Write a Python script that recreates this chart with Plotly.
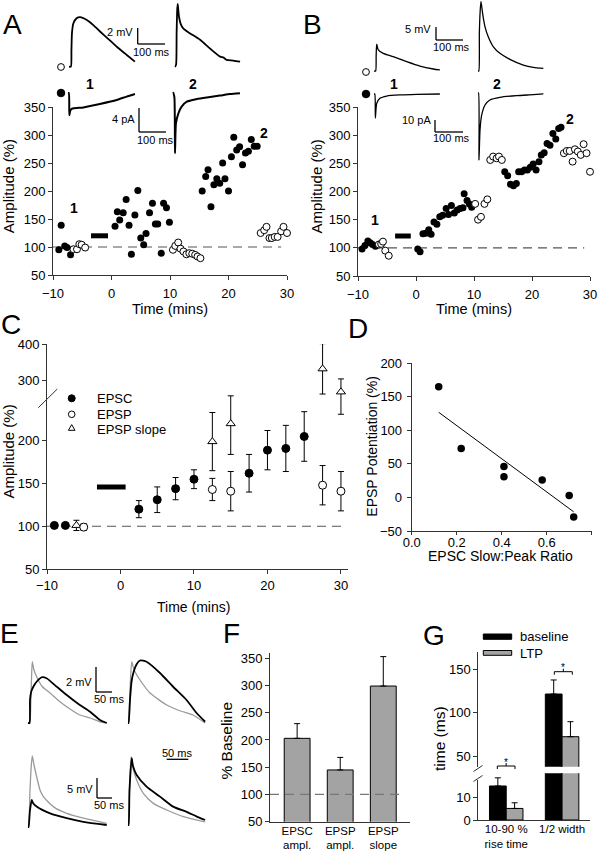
import numpy as np
import plotly.graph_objects as go

W, H = 599, 853
FONT = "Liberation Sans, Arial, sans-serif"

# ---------------- data ----------------
# Panel A (EPSC filled, EPSP open), time in min, amplitude in %
a_fill_t = [-9.0, -8.6, -8.0, -7.6, -7.0,
            0.6, 1.0, 1.4, 2.0, 2.5, 3.0, 3.4, 4.0, 4.5, 5.0, 5.5, 5.9, 6.5, 7.0, 7.5, 7.9, 8.5, 8.9, 9.4, 9.9,
            15.5, 16.1, 16.5, 17.0, 17.5, 18.0, 18.5, 19.0, 19.4, 20.0, 20.5, 20.9, 21.4, 21.9, 22.4, 22.9, 23.4, 23.9, 24.4, 24.9]
a_fill_v = [95, 139, 102, 99, 86,
            137, 163, 148, 161, 185, 139, 87, 157, 201, 116, 104, 124, 161, 178, 141, 141, 89, 178, 170, 144,
            200, 226, 238, 172, 211, 222, 214, 250, 222, 200, 261, 296, 273, 279, 247, 268, 271, 292, 280, 280]
a_open_t = [-6.5, -5.9, -5.5, -5.1, -4.5,
            10.5, 10.9, 11.4, 11.8, 12.3, 12.8, 13.3, 13.8, 14.3, 14.7, 15.2,
            25.5, 26.1, 26.5, 27.0, 27.4, 27.9, 28.4, 29.0, 29.4, 30.0]
a_open_v = [96, 96, 105, 104, 99,
            95, 102, 108, 97, 92, 87, 89, 88, 86, 83, 80,
            125, 130, 136, 116, 116, 118, 118, 128, 136, 125]

# Panel B
b_fill_t = [-9.3, -8.8, -8.3, -7.9, -7.5, -7.0,
            0.3, 0.7, 1.2, 1.7, 2.2, 2.6, 3.1, 3.6, 4.1, 4.6, 5.2, 5.6, 6.1, 6.6, 7.1, 7.6, 8.1, 8.3, 8.8, 9.2, 9.6,
            15.3, 15.8, 16.3, 16.8, 17.3, 17.7, 18.2, 18.7, 19.2, 19.7, 20.2, 20.7, 21.2, 21.6, 22.1, 22.6, 23.1, 23.6, 24.1, 24.6, 25.0]
b_fill_v = [98, 104, 112, 109, 106, 103,
            98, 93, 125, 126, 132, 124, 146, 142, 155, 158, 170, 159, 175, 162, 167, 170, 171, 196, 184, 178, 172,
            235, 228, 213, 210, 214, 235, 235, 238, 238, 243, 249, 238, 253, 265, 269, 285, 282, 303, 293, 312, 314]
b_open_t = [-6.4, -6.0, -5.7, -5.3, -4.7,
            10.2, 10.7, 11.2, 11.8, 12.3, 12.8, 13.3, 13.9, 14.3, 14.8,
            25.5, 26.0, 26.5, 27.0, 27.4, 27.9, 28.4, 28.9, 29.4, 30.0]
b_open_v = [106, 107, 111, 95, 86,
            178, 150, 155, 178, 186, 256, 262, 259, 262, 256,
            268, 272, 272, 253, 275, 271, 265, 284, 268, 235]

# Tetanus bars: [t_start, t_end, level]
stim_a = [-3.5, -0.6, 120]
stim_b = [-3.6, -0.9, 121]
stim_c = [-3.2, 0.7, 146]

# Panel C (mean +/- SEM)
c_epsc_t = [-9, -7.5, 2.5, 5, 7.5, 10, 17.5, 20, 22.5, 25]
c_epsc_v = [101, 101, 120, 131, 144, 155, 162, 189, 191, 205]
c_epsc_e = [2, 2, 10, 15, 13, 11, 22, 23, 27, 29]
c_epsp_t = [-5, 12.5, 15, 27.5, 30]
c_epsp_v = [99, 143, 141, 148, 141]
c_epsp_e = [4, 13, 23, 23, 23]
c_slope_t = [-6, 12.5, 15, 27.5, 30]
c_slope_v = [101, 199, 220, 331, 267]
c_slope_e = [6, 34, 36, 70, 36]

# Panel D
d_ratio = [0.12, 0.22, 0.41, 0.41, 0.58, 0.70, 0.72]
d_pot = [165, 73, 46, 31, 26, 3, -29]

# Panel F
f_cats = ["EPSC<br>ampl.", "EPSP<br>ampl.", "EPSP<br>slope"]
f_vals = [203, 145, 299]
f_err = [27, 23, 54]

# Panel G
g_cats = ["10-90 %<br>rise time", "1/2 width"]
g_base = [15.0, 121.5]
g_base_err = [3.6, 16.2]
g_ltp = [5.1, 72.3]
g_ltp_err = [2.5, 17.3]

# Example traces (time ms, amplitude mV or pA)
a_epsp1_t = [0, 7, 9, 11, 16, 28, 41, 66, 90, 115, 146, 177, 214, 244]
a_epsp1_v = [0, 0, 2.0, 4.2, 5.4, 6.05, 6.2, 5.84, 5.2, 4.4, 3.45, 2.5, 1.46, 0.63]
a_epsp2_t = [0, 4, 6, 8, 10, 12, 15, 21, 31, 56, 93, 130, 167, 179, 191, 216, 241]
a_epsp2_v = [0, 0.3, 4.2, 7.0, 7.9, 7.2, 6.25, 5.4, 4.8, 4.2, 3.4, 2.3, 1.3, 1.2, 0.88, 0.8, 0.66]
a_epsc1_t = [0, 3, 5, 7, 10, 20, 57, 118, 180, 217, 248]
a_epsc1_v = [0, 0, -3.7, -3.2, -2.83, -2.55, -2.4, -1.83, -1.17, -0.6, -0.17]
a_epsc2_t = [0, 5, 7.4, 11, 20, 32, 51, 88, 125, 174, 211, 248]
a_epsc2_v = [0, -0.8, -10.2, -5.2, -3.55, -2.45, -1.6, -1.17, -0.9, -0.6, -0.33, -0.2]
b_epsp1_t = [0, 6, 8, 10, 16, 34, 71, 121, 170, 220, 244]
b_epsp1_v = [0, 0, 6, 10.3, 8.1, 6.8, 5.5, 3.6, 1.9, 0.77, 0.4]
b_epsp2_t = [0, 3, 5, 8, 11, 17, 26, 38, 57, 81, 118, 168, 205, 242]
b_epsp2_v = [0, 0, 14.5, 23, 26.8, 22.2, 17, 13.2, 9.3, 6.8, 4.5, 2.3, 1.4, 1.0]
b_epsc1_t = [0, 3, 5, 10, 22, 47, 96, 158, 244]
b_epsc1_v = [0, 0, -20, -7.8, -3.6, -1.7, -0.8, -0.3, 0]
b_epsc2_t = [0, 2, 3.7, 7.4, 13.7, 26, 44, 81, 143, 205, 242]
b_epsc2_v = [0, 0, -56, -31, -18.3, -10, -5.8, -3.6, -2.2, -1.4, -0.8]

e_tl_grey_t = [0, 5, 9, 11, 13.4, 18, 27, 45, 69, 95, 121, 162, 194, 225, 246]
e_tl_grey_v = [0, 0, 1.8, 3.6, 4.9, 4.3, 3.7, 2.9, 2.4, 1.8, 1.3, 0.64, 0.4, 0.1, 0]
e_tl_black_t = [0, 4.7, 6.25, 10, 16.6, 27, 43, 58, 90, 121, 162, 194, 225, 246]
e_tl_black_v = [0, 0, 1.84, 2.5, 2.9, 3.3, 3.66, 3.58, 2.9, 2.24, 1.44, 0.9, 0.24, 0]
e_tr_grey_t = [0, 1.6, 4, 6.25, 11.6, 16, 21.9, 37.5, 69, 121, 150, 172, 203, 241]
e_tr_grey_v = [0, 0, 1, 2.64, 4.9, 4.5, 4.1, 3.44, 2.4, 1.44, 1.1, 0.9, 0.64, 0]
e_tr_black_t = [0, 1.6, 6.25, 11, 16.6, 27, 37.5, 58, 100, 141, 183, 215, 241]
e_tr_black_v = [0, 0, 1.84, 3.3, 4.0, 4.7, 5.0, 4.9, 4.0, 2.9, 1.84, 0.78, 0.1]
e_bl_grey_t = [0, 1.6, 6.25, 10, 13.4, 18.8, 27, 37.5, 48, 79, 121, 173, 246]
e_bl_grey_v = [0, 0, 9.25, 15, 17.8, 15.5, 12.6, 9.25, 7.6, 5.1, 3.4, 2.2, 0.9]
e_bl_black_t = [0, 1.6, 6, 11.6, 15.6, 27, 69, 121, 173, 246]
e_bl_black_v = [0, 0, 4, 6.75, 6.0, 5.1, 3.4, 2.2, 1.3, 0.5]
e_br_grey_t = [0, 1.6, 4.7, 9.4, 15.6, 27, 48, 79, 121, 173, 241]
e_br_grey_v = [0, 0, 8.75, 17.1, 14.25, 11.25, 7.9, 5.4, 3.75, 2.1, 0.8]
e_br_black_t = [0, 1.6, 4.7, 11.6, 15.6, 27, 58, 100, 141, 183, 215, 241]
e_br_black_v = [0, 0, 8.75, 16.7, 14.75, 12.5, 9.6, 7.1, 4.6, 3.3, 2.1, 1.25]

# ---------------- helpers ----------------
def xd(p0, p1):
    return [p0 / W, p1 / W]

def yd(top, bot):
    return [1 - bot / H, 1 - top / H]

def X(i): return 'xaxis' if i == 1 else f'xaxis{i}'
def Y(i): return 'yaxis' if i == 1 else f'yaxis{i}'
def XR(i): return 'x' if i == 1 else f'x{i}'
def YR(i): return 'y' if i == 1 else f'y{i}'

AXC = '#333333'
AX = dict(showline=True, linecolor=AXC, linewidth=1, ticks='outside', ticklen=4,
          tickwidth=1, tickcolor=AXC, showgrid=False, zeroline=False, fixedrange=True,
          tickfont=dict(size=13, family=FONT, color='black'))
HID = dict(visible=False, showgrid=False, zeroline=False, fixedrange=True)

layout = dict(width=W, height=H, margin=dict(l=0, r=0, t=0, b=0, autoexpand=False),
              paper_bgcolor='white', plot_bgcolor='rgba(0,0,0,0)', showlegend=False,
              font=dict(family=FONT, size=13, color='black'), barmode='overlay')
annotations, shapes = [], []
fig = go.Figure()

def axis(kind, i, **kw):
    d = dict(AX)
    d.update(kw)
    layout[X(i) if kind == 'x' else Y(i)] = d

def txt(px, py, text, size=13, xa='center', ya='middle', angle=0, bold=False):
    if bold:
        text = f'<b>{text}</b>'
    annotations.append(dict(x=px / W, y=1 - py / H, xref='paper', yref='paper', text=text,
                            showarrow=False, xanchor=xa, yanchor=ya, textangle=angle,
                            font=dict(size=size, family=FONT, color='black')))

def pline(x0, y0, x1, y1, color='black', width=1):
    shapes.append(dict(type='line', xref='paper', yref='paper', x0=x0 / W, x1=x1 / W,
                       y0=1 - y0 / H, y1=1 - y1 / H, line=dict(color=color, width=width)))

def pcircle(cx, cy, r, fill):
    shapes.append(dict(type='circle', xref='paper', yref='paper', x0=(cx - r) / W, x1=(cx + r) / W,
                       y0=1 - (cy + r) / H, y1=1 - (cy - r) / H, fillcolor=fill,
                       line=dict(color='black', width=1)))

def prect(x0, y0, x1, y1, fill):
    shapes.append(dict(type='rect', xref='paper', yref='paper', x0=x0 / W, x1=x1 / W,
                       y0=1 - y1 / H, y1=1 - y0 / H, fillcolor=fill, line=dict(color='black', width=1)))

# ---------------- Panel A & B scatter ----------------
for (xi, yi, xpx, ypx, ft, fv, ot, ov, stim) in [
        (1, 1, (53, 287), (107, 275), a_fill_t, a_fill_v, a_open_t, a_open_v, stim_a),
        (2, 2, (358, 590), (107, 276), b_fill_t, b_fill_v, b_open_t, b_open_v, stim_b)]:
    axis('x', xi, domain=xd(*xpx), range=[-10, 30], tickvals=[-10, 0, 10, 20, 30], anchor=YR(yi),
         ticklabelstandoff=2)
    axis('y', yi, domain=yd(*ypx), range=[50, 350], tickvals=list(range(50, 351, 50)), anchor=XR(xi))
    shapes.append(dict(type='line', xref=XR(xi), yref=YR(yi), x0=-10, x1=29, y0=100, y1=100,
                       line=dict(color='#555', width=1.2, dash='9px,6px'), layer='below'))
    shapes.append(dict(type='line', xref=XR(xi), yref=YR(yi), x0=stim[0], x1=stim[1],
                       y0=stim[2], y1=stim[2], line=dict(color='black', width=5)))
    fig.add_trace(go.Scatter(x=ft, y=fv, mode='markers', xaxis=XR(xi), yaxis=YR(yi), cliponaxis=False,
                             marker=dict(size=7, color='black', line=dict(width=0))))
    fig.add_trace(go.Scatter(x=ot, y=ov, mode='markers', xaxis=XR(xi), yaxis=YR(yi), cliponaxis=False,
                             marker=dict(size=7, color='white', line=dict(color='black', width=1))))

# ---------------- Panel C (broken y axis) ----------------
axis('x', 3, domain=xd(47, 348.3), range=[-10, 31], tickvals=[-10, 0, 10, 20, 30], anchor='y3')
axis('y', 3, domain=yd(398, 569), range=[50, 250], tickvals=[50, 100, 150, 200], anchor='x3')
axis('y', 4, domain=yd(344, 398), range=[250, 400], tickvals=[300, 400], anchor='x3')
shapes.append(dict(type='line', xref='x3', yref='y3', x0=-10, x1=30.5, y0=100, y1=100,
                   line=dict(color='#555', width=1.2, dash='9px,6px'), layer='below'))
shapes.append(dict(type='line', xref='x3', yref='y3', x0=stim_c[0], x1=stim_c[1], y0=stim_c[2],
                   y1=stim_c[2], line=dict(color='black', width=5)))
pline(38.3, 407.7, 57.3, 389, color=AXC)
for ya in ['y3', 'y4']:
    for t, v, e, sym, col in [(c_slope_t, c_slope_v, c_slope_e, 'triangle-up', 'white'),
                              (c_epsp_t, c_epsp_v, c_epsp_e, 'circle', 'white'),
                              (c_epsc_t, c_epsc_v, c_epsc_e, 'circle', 'black')]:
        fig.add_trace(go.Scatter(x=t, y=v, mode='markers', xaxis='x3', yaxis=ya,
                                 marker=dict(symbol=sym, size=8, color=col,
                                             line=dict(color='black', width=1)),
                                 error_y=dict(type='data', array=e, color='black', thickness=1, width=3)))
# legend C
pcircle(71.7, 398.3, 3.5, 'black')
pcircle(71.7, 414.3, 3.3, 'white')
shapes.append(dict(type='path', xref='paper', yref='paper',
                   path=f'M {68.4/W},{1-430.3/H} L {75.0/W},{1-430.3/H} L {71.7/W},{1-424.6/H} Z',
                   fillcolor='white', line=dict(color='black', width=1)))
txt(95, 398.3, 'EPSC', 13, xa='left')
txt(95, 414.3, 'EPSP', 13, xa='left')
txt(95, 429.5, 'EPSP slope', 13, xa='left')

# ---------------- Panel D ----------------
axis('x', 4, domain=xd(411.7, 591.7), range=[0, 0.8], tickvals=[0, 0.2, 0.4, 0.6, 0.8],
     tickformat='.1f', anchor='y5', ticklen=3, ticklabelstandoff=-4)
axis('y', 5, domain=yd(363.3, 531), range=[-50, 200], tickvals=list(range(-50, 201, 50)), anchor='x4',
     ticklabelstandoff=2)
coef = np.polyfit(d_ratio, d_pot, 1)
fx = np.array([min(d_ratio), max(d_ratio)])
fig.add_trace(go.Scatter(x=fx, y=np.polyval(coef, fx), mode='lines', xaxis='x4', yaxis='y5',
                         line=dict(color='black', width=1)))
fig.add_trace(go.Scatter(x=d_ratio, y=d_pot, mode='markers', xaxis='x4', yaxis='y5', cliponaxis=False,
                         marker=dict(size=7.5, color='black')))

# ---------------- Panel F ----------------
CATFONT = dict(size=11.5, family=FONT, color='black')
axis('x', 5, domain=xd(270, 410), range=[-0.63, 2.62], tickvals=[0, 1, 2], ticktext=f_cats,
     ticks='', anchor='y6', tickfont=CATFONT, ticklabelstandoff=-2)
axis('y', 6, domain=yd(652.8, 821.7), range=[50, 360], tickvals=list(range(50, 351, 50)), anchor='x5')
fig.add_trace(go.Bar(x=[0, 1, 2], y=f_vals, width=0.6, xaxis='x5', yaxis='y6',
                     marker=dict(color='#a3a3a3', line=dict(color='black', width=1)),
                     error_y=dict(type='data', symmetric=False, array=f_err, arrayminus=[0, 0, 0],
                                  color='black', thickness=1, width=3)))
shapes.append(dict(type='line', xref='x5', yref='y6', x0=-0.63, x1=2.5, y0=100, y1=100,
                   line=dict(color='#777', width=1.2, dash='9px,6px'), layer='above'))

# ---------------- Panel G (broken y axis) ----------------
axis('x', 6, domain=xd(478.3, 590), range=[-0.5, 1.5], tickvals=[0, 1], ticktext=g_cats,
     ticks='', anchor='y7', tickfont=CATFONT, ticklabelstandoff=-2)
axis('y', 7, domain=yd(773.3, 820), range=[0, 20.6], tickvals=[0, 10], anchor='x6')
axis('y', 8, domain=yd(651.7, 766.7), range=[37.7, 170.3], tickvals=[50, 100, 150], anchor='x6')
for ya in ['y7', 'y8']:
    fig.add_trace(go.Bar(x=[0, 1], y=g_base, width=0.3, offset=-0.3, xaxis='x6', yaxis=ya,
                         marker=dict(color='black', line=dict(color='black', width=1)),
                         error_y=dict(type='data', symmetric=False, array=g_base_err, arrayminus=[0, 0],
                                      color='black', thickness=1, width=3)))
    fig.add_trace(go.Bar(x=[0, 1], y=g_ltp, width=0.3, offset=0, xaxis='x6', yaxis=ya,
                         marker=dict(color='#a3a3a3', line=dict(color='black', width=1)),
                         error_y=dict(type='data', symmetric=False, array=g_ltp_err, arrayminus=[0, 0],
                                      color='black', thickness=1, width=3)))
# axis break marks
shapes.append(dict(type='rect', xref='paper', yref='paper', x0=470 / W, x1=486 / W,
                   y0=1 - 780 / H, y1=1 - 767 / H, fillcolor='white', line=dict(width=0)))
pline(473.5, 771.5, 482.5, 765.5, color=AXC)
pline(473.5, 781.5, 482.5, 775.5, color=AXC)
# significance brackets
for (x0, x1, y) in [(497.3, 515, 766.0), (554.3, 572.3, 671.7)]:
    pline(x0, y, x1, y)
    pline(x0, y, x0, y + 3)
    pline(x1, y, x1, y + 3)
    pline((x0 + x1) / 2, y - 3, (x0 + x1) / 2, y)
    txt((x0 + x1) / 2, y - 4, '*', 10)
# legend G
prect(483.3, 634, 511.7, 639.3, 'black')
prect(483.3, 650.5, 511.7, 655.3, '#a3a3a3')
txt(518.3, 636.7, 'baseline', 13, xa='left')
txt(518.3, 653.3, 'LTP', 13, xa='left')

# ---------------- trace insets ----------------
inset_id = [7]

def inset(ox, oy, st, sv, xr, yr, traces):
    i = inset_id[0]
    inset_id[0] += 1
    xi, yi = i, i + 2
    layout[X(xi)] = dict(HID, domain=xd(ox + xr[0] * st, ox + xr[1] * st), range=xr, anchor=YR(yi))
    layout[Y(yi)] = dict(HID, domain=yd(oy - yr[1] * sv, oy - yr[0] * sv), range=yr, anchor=XR(xi))
    for t, v, col, wdt in traces:
        fig.add_trace(go.Scatter(x=t, y=v, mode='lines', xaxis=XR(xi), yaxis=YR(yi),
                                 line=dict(color=col, width=wdt, shape='spline', smoothing=0.6)))

GREY = '#9a9a9a'
inset(69, 66.7, 0.27, 8, [-2, 250], [-0.5, 6.8], [(a_epsp1_t, a_epsp1_v, 'black', 1.8)])
inset(175, 67, 0.27, 8, [-2, 250], [-0.5, 8.3], [(a_epsp2_t, a_epsp2_v, 'black', 1.8)])
inset(68, 93, 0.27, 6, [-2, 250], [-4.5, 0.8], [(a_epsc1_t, a_epsc1_v, 'black', 2)])
inset(173, 92, 0.27, 6, [-2, 250], [-11, 0.8], [(a_epsc2_t, a_epsc2_v, 'black', 2)])
inset(374, 71, 0.27, 2.6, [-2, 250], [-1, 12], [(b_epsp1_t, b_epsp1_v, 'black', 1.3)])
inset(478, 71, 0.27, 2.6, [-2, 250], [-1, 27.2], [(b_epsp2_t, b_epsp2_v, 'black', 1.3)])
inset(374, 94, 0.27, 1.2, [-2, 250], [-21, 2], [(b_epsc1_t, b_epsc1_v, 'black', 1.3)])
inset(478, 93, 0.27, 1.2, [-2, 250], [-58, 2], [(b_epsc2_t, b_epsc2_v, 'black', 1.3)])
inset(28, 723, 0.32, 12.5, [-2, 250], [-0.5, 5.5],
      [(e_tl_grey_t, e_tl_grey_v, GREY, 1.3), (e_tl_black_t, e_tl_black_v, 'black', 1.8)])
inset(128, 723, 0.32, 12.5, [-2, 250], [-0.5, 5.5],
      [(e_tr_grey_t, e_tr_grey_v, GREY, 1.3), (e_tr_black_t, e_tr_black_v, 'black', 1.8)])
inset(28, 827, 0.32, 4, [-2, 250], [-1, 19],
      [(e_bl_grey_t, e_bl_grey_v, GREY, 1.3), (e_bl_black_t, e_bl_black_v, 'black', 1.8)])
inset(128, 825, 0.32, 4, [-2, 250], [-1, 19],
      [(e_br_grey_t, e_br_grey_v, GREY, 1.3), (e_br_black_t, e_br_black_v, 'black', 1.8)])

# scale bars
for (vx, vy0, vy1, hx1) in [(137.7, 28, 44, 165), (139, 108, 132, 166), (436, 27, 40, 463),
                            (435, 120, 132, 463), (96, 667, 692, 112), (97, 778, 798, 112)]:
    pline(vx, vy0, vx, vy1, width=1.3)
    pline(vx, vy1, hx1, vy1, width=1.3)
pline(166.7, 759.3, 188.3, 759.3, width=1.3)
SB = 11
txt(135, 31.7, '2 mV', SB, xa='right')
txt(151.5, 51.7, '100 ms', SB)
txt(137, 119.3, '4 pA', SB, xa='right')
txt(155, 140, '100 ms', SB)
txt(433, 29.3, '5 mV', SB, xa='right')
txt(451.5, 46.7, '100 ms', SB)
txt(433, 120, '10 pA', SB, xa='right')
txt(451.5, 138.5, '100 ms', SB)
txt(94, 681.7, '2 mV', SB, xa='right')
txt(108.5, 699.3, '50 ms', SB)
txt(95, 789, '5 mV', SB, xa='right')
txt(108.5, 805, '50 ms', SB)
txt(177, 752.5, '50 ms', SB)

# inset markers
pcircle(61, 67, 3.4, 'white')
pcircle(61, 93, 3.8, 'black')
pcircle(366, 72, 3.4, 'white')
pcircle(366, 94, 3.8, 'black')

# numbers
for (px, py, s) in [(90, 84, '1'), (193.3, 84, '2'), (394.3, 84, '1'), (496.7, 84, '2'),
                    (74, 208.3, '1'), (264, 132.7, '2'), (375, 220, '1'), (570, 119.3, '2')]:
    txt(px, py, s, 14, bold=True)

# panel letters
for (px, py, s) in [(12, 25, 'A'), (312, 25, 'B'), (11, 324, 'C'), (358, 328, 'D'),
                    (9, 633, 'E'), (231, 633, 'F'), (434, 635, 'G')]:
    txt(px, py, s, 28)

# axis titles
txt(8.5, 186.7, 'Amplitude (%)', 15, angle=-90)
txt(316.7, 186.7, 'Amplitude (%)', 15, angle=-90)
txt(170, 309, 'Time (mins)', 14.5)
txt(474, 309, 'Time (mins)', 14.5)
txt(7.5, 452, 'Amplitude (%)', 15, angle=-90)
txt(193.5, 606.7, 'Time (mins)', 14)
txt(371.7, 446, 'EPSP Potentiation (%)', 14, angle=-90)
txt(500, 555.5, 'EPSC Slow:Peak Ratio', 14)
txt(226.7, 740.8, '% Baseline', 15.5, angle=-90)
txt(439, 739, 'time (ms)', 15.5, angle=-90)

layout['annotations'] = annotations
layout['shapes'] = shapes
fig.update_layout(**layout)
fig.write_html("out.html", config={'displayModeBar': False},
               post_script="document.body.style.margin='0';document.body.style.overflow='hidden';")
